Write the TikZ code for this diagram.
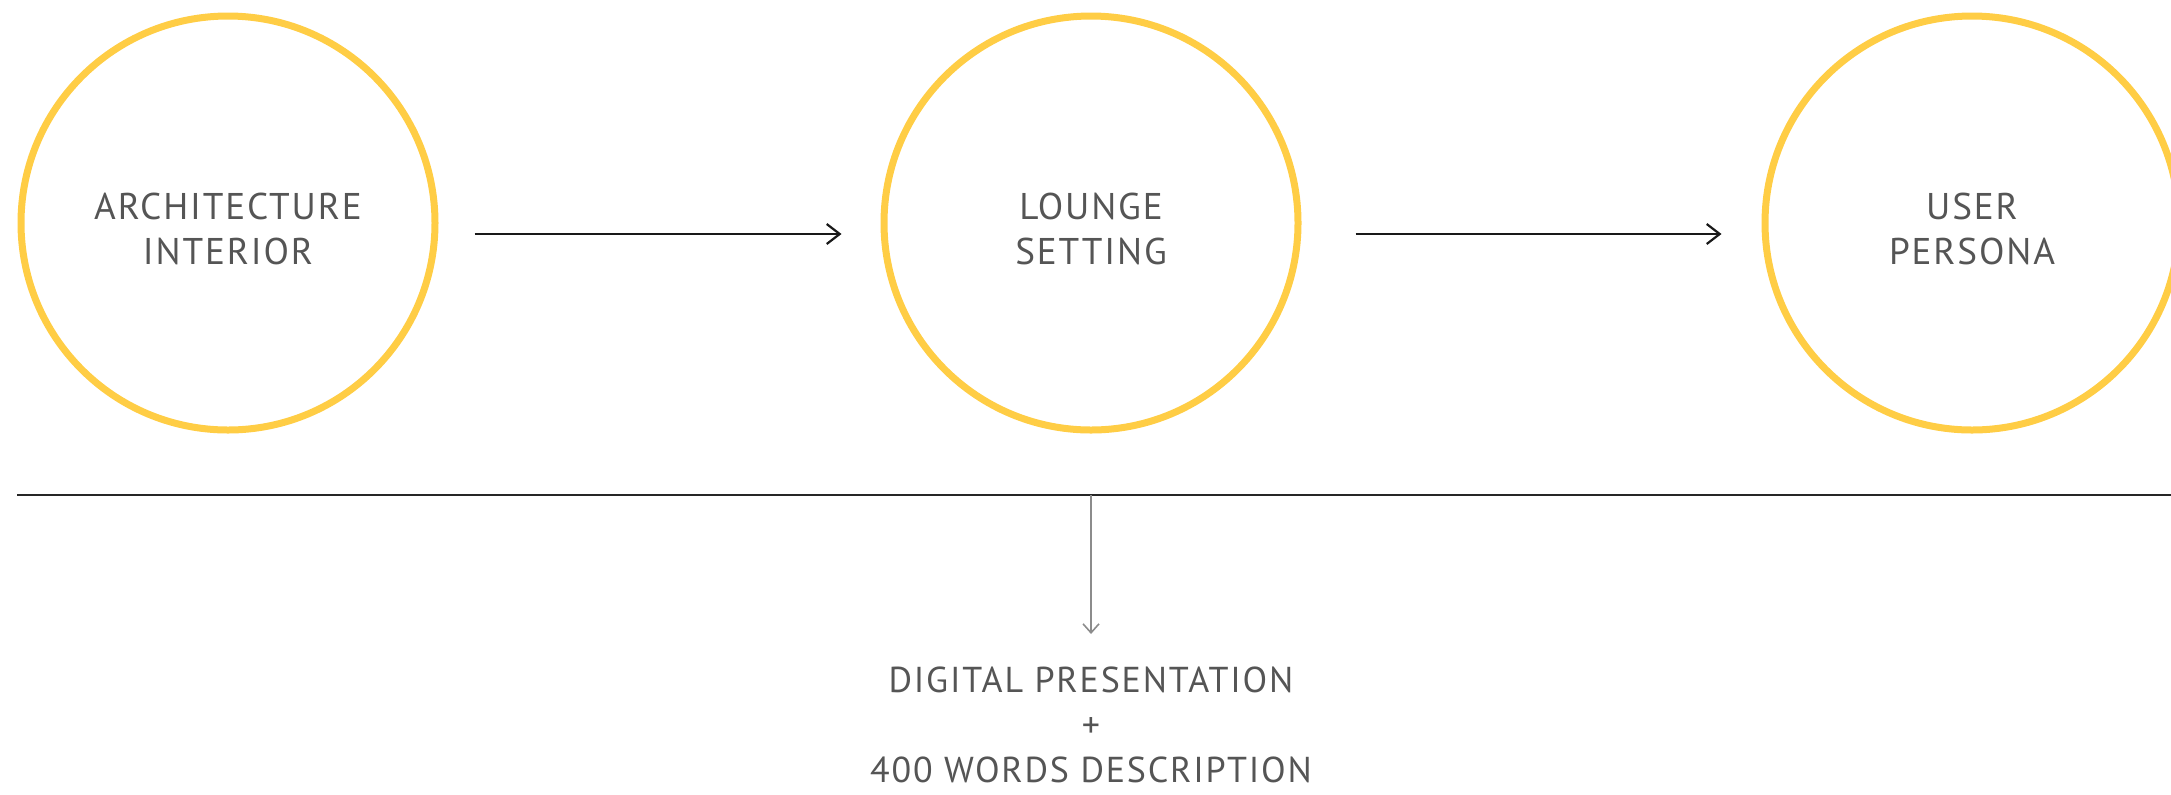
\documentclass[tikz,border=0pt]{standalone}
\usepackage{fontspec}
\setmainfont{PT Sans}[LetterSpace=5]
\usepackage{xcolor}
\usepackage{tikz}
\usetikzlibrary{arrows.meta}
\usetikzlibrary{positioning}
\definecolor{stepyellow}{HTML}{FFCD45}
\definecolor{labelgray}{HTML}{555555}
\tikzset{
    step_circle/.style = {circle, draw=stepyellow, line width=3.5pt, minimum size=207pt, inner sep=0pt},
    step_label/.style = {align=center, text=labelgray, inner sep=0pt, yshift=-3pt, font=\fontsize{18.6}{22.5}\selectfont},
    flow_arrow/.style = {-{Straight Barb[length=6.5pt, width=10pt, line width=1.1pt]}, line width=1.1pt, black!90},
    base_line/.style = {line width=1pt, black!85},
    drop_arrow/.style = {-{Straight Barb[length=4.5pt, width=8pt, line width=0.8pt]}, line width=0.8pt, black!45},
    out_text/.style = {align=center, text=labelgray, inner sep=0pt, font=\fontsize{18}{22.5}\selectfont}
}

\begin{document}
\begin{tikzpicture}[x=0.5pt, y=-0.5pt]
    \useasboundingbox (0,0) rectangle (2171,794);

    % steps
    \node [step_circle, label={[step_label]center:ARCHITECTURE\\INTERIOR}] (arch) at (228,223) {};
    \node [step_circle, label={[step_label]center:LOUNGE\\SETTING}] (lounge) at (1091,223) {};
    \node [step_circle, label={[step_label]center:USER\\PERSONA}] (user) at (1972,223) {};

    \draw [flow_arrow, shorten <=18pt, shorten >=19.5pt] ([yshift=-5.5pt]arch.east) -- ([yshift=-5.5pt]lounge.west);
    \draw [flow_arrow, shorten <=27pt, shorten >=20pt] ([yshift=-5.5pt]lounge.east) -- ([yshift=-5.5pt]user.west);

    % result
    \coordinate (line_left) at (17,495);
    \coordinate (line_right) at (2171,495);
    \draw [base_line] (line_left) -- (line_right);

    \node [out_text, anchor=north] (result) at (1091,666) {DIGITAL PRESENTATION\\+\\400 WORDS DESCRIPTION};
    \draw [drop_arrow, shorten >=16pt] (lounge |- line_left) -- (result.north);
\end{tikzpicture}
\end{document}
